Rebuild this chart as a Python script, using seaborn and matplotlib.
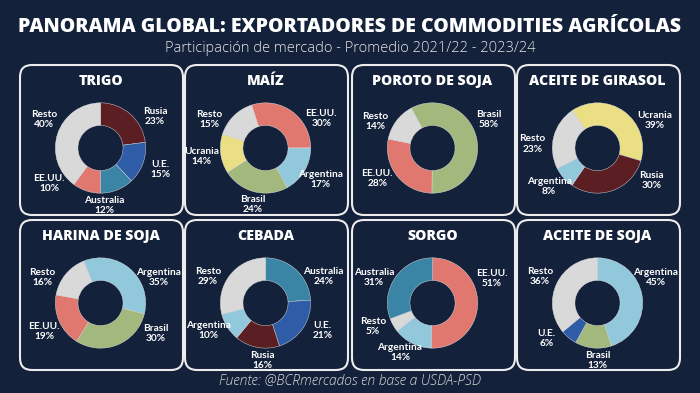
import matplotlib
matplotlib.use("Agg")
import matplotlib.pyplot as plt
import seaborn as sns
import numpy as np
from matplotlib.patches import FancyBboxPatch

sns.set_theme(style="dark")
plt.rcParams['font.family'] = ['Open Sans', 'DejaVu Sans']

# ---------------- DATA ----------------
titulos = ["TRIGO", "MAÍZ", "POROTO DE SOJA", "ACEITE DE GIRASOL",
           "HARINA DE SOJA", "CEBADA", "SORGO", "ACEITE DE SOJA"]

trigo_paises = ["Rusia", "U.E.", "Australia", "EE.UU.", "Resto"]
trigo_pct = [23, 15, 12, 10, 40]

maiz_paises = ["EE.UU.", "Argentina", "Brasil", "Ucrania", "Resto"]
maiz_pct = [30, 17, 24, 14, 15]

poroto_paises = ["Brasil", "EE.UU.", "Resto"]
poroto_pct = [58, 28, 14]

girasol_paises = ["Ucrania", "Rusia", "Argentina", "Resto"]
girasol_pct = [39, 30, 8, 23]

harina_paises = ["Argentina", "Brasil", "EE.UU.", "Resto"]
harina_pct = [35, 30, 19, 16]

cebada_paises = ["Australia", "U.E.", "Rusia", "Argentina", "Resto"]
cebada_pct = [24, 21, 16, 10, 29]

sorgo_paises = ["EE.UU.", "Argentina", "Resto", "Australia"]
sorgo_pct = [51, 14, 5, 31]

aceite_soja_paises = ["Argentina", "Brasil", "U.E.", "Resto"]
aceite_soja_pct = [45, 13, 6, 36]

series = [(trigo_paises, trigo_pct), (maiz_paises, maiz_pct),
          (poroto_paises, poroto_pct), (girasol_paises, girasol_pct),
          (harina_paises, harina_pct), (cebada_paises, cebada_pct),
          (sorgo_paises, sorgo_pct), (aceite_soja_paises, aceite_soja_pct)]

# ---------------- STYLE ----------------
BG = "#14213b"
colores = {
    "Rusia": "#5b1e22",
    "U.E.": "#2e5ca6",
    "Australia": "#3a85a6",
    "EE.UU.": "#e0786f",
    "Resto": "#d9d9d9",
    "Argentina": "#92c8dc",
    "Brasil": "#a3b87c",
    "Ucrania": "#eadf84",
}
# angle of first slice, degrees clockwise from 12 o'clock
inicio = [0, -18, -28, -34, -22, 0, 0, 0]
# label placement angles (degrees clockwise from 12 o'clock)
label_ang = [
    [57, 112, 177, 232, 300],
    [59, 123, 191, 261, 300],
    [60, 238, 298],
    [61, 124, 228, 274],
    [64, 122, 240, 296],
    [63, 119, 183, 241, 298],
    [65, 210, 246, 296],
    [64, 180, 232, 298],
]
RX, RY = 1.44, 1.27

W, H = 700, 393
fig = plt.figure(figsize=(W / 100, H / 100), dpi=100, facecolor=BG)

box_x = [20, 185, 352, 517]
box_w = 163
rows_top = [65, 220]
box_h = 150
S = 140  # donut axes size in px

for i, (titulo, (paises, pct)) in enumerate(zip(titulos, series)):
    r, c = divmod(i, 4)
    x0 = box_x[c]
    top = rows_top[r]
    box = FancyBboxPatch((x0 / 100, (H - top - box_h) / 100), box_w / 100, box_h / 100,
                         boxstyle="round,pad=0,rounding_size=0.12",
                         transform=fig.dpi_scale_trans, facecolor="none",
                         edgecolor="#ececec", linewidth=1.5, zorder=-1)
    fig.patches.append(box)

    cx = x0 + box_w / 2 - 1
    cy = top + 83
    fig.text(cx / W, 1 - (top + 16) / H, titulo, ha="center", va="center",
             color="white", fontsize=10.2, fontweight=800)

    ax = fig.add_axes([(cx - S / 2) / W, 1 - (cy + S / 2) / H, S / W, S / H])
    ax.set_facecolor("none")
    ax.patch.set_alpha(0)
    wedges, _ = ax.pie(pct, colors=[colores[p] for p in paises],
                       startangle=90 - inicio[i], counterclock=False, radius=1,
                       wedgeprops=dict(width=0.5, edgecolor="#e6e6e6", linewidth=0.3))
    ax.set_xlim(-1.55, 1.55)
    ax.set_ylim(-1.55, 1.55)
    ax.set_aspect("equal")
    ax.axis("off")
    for a, p, v in zip(label_ang[i], paises, pct):
        t = np.deg2rad(a)
        ax.text(RX * np.sin(t), RY * np.cos(t), f"{p}\n{v}%",
                ha="center", va="center", color="white", fontsize=7.3,
                fontweight="bold", linespacing=1.15, family=["Lato", "DejaVu Sans"])

fig.text(0.5, 1 - 27 / H, "PANORAMA GLOBAL: EXPORTADORES DE COMMODITIES AGRÍCOLAS",
         ha="center", va="center", color="white", fontsize=14, fontweight=800)
fig.text(0.5, 1 - 48 / H, "Participación de mercado - Promedio 2021/22 - 2023/24",
         ha="center", va="center", color="#e6e6e6", fontsize=10.5, fontweight=300)
fig.text(0.5, 1 - 380 / H, "Fuente: @BCRmercados en base a USDA-PSD",
         ha="center", va="center", color="#d6d6d6", fontsize=10, style="italic",
         fontweight=300)

fig.savefig("out.png", dpi=100, facecolor=BG)
